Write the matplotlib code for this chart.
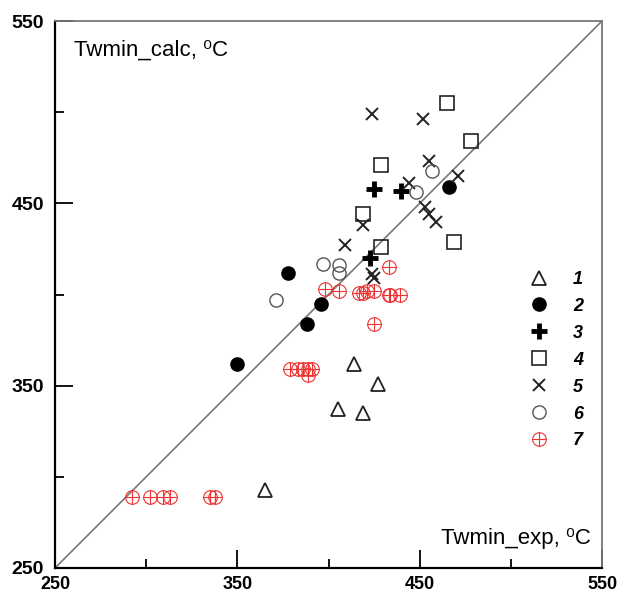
import numpy as np
import matplotlib
matplotlib.use("Agg")
import matplotlib.pyplot as plt
from matplotlib.path import Path
from matplotlib.ticker import FixedLocator

plt.rcParams['font.family'] = ['Liberation Sans', 'DejaVu Sans']

# series 1 - triangles
x1 = [365, 414, 427, 405, 419]
y1 = [293, 362, 351, 337, 335]
# series 2 - filled circles
x2 = [378, 396, 388, 350, 466]
y2 = [412, 395, 384, 362, 459]
# series 3 - plus
x3 = [425, 440, 423]
y3 = [458, 457, 420]
# series 4 - squares
x4 = [465, 478, 429, 419, 469, 429]
y4 = [505, 484, 471, 444, 429, 426]
# series 5 - crosses
x5 = [424, 452, 455, 471, 444, 453, 455, 459, 419, 409, 424, 425]
y5 = [499, 496, 473, 465, 461, 448, 444, 440, 438, 427, 411, 409]
# series 6 - open circles
x6 = [457, 448, 397, 406, 406, 371]
y6 = [468, 456, 417, 416, 412, 397]
# series 7 - red circle-plus
x7 = [292, 302, 309, 313, 335, 338,
      433, 398, 406, 417, 419, 421, 425, 433, 434, 439, 425,
      379, 383, 386, 389, 389, 391]
y7 = [289, 289, 289, 289, 289, 289,
      415, 403, 402, 401, 401, 402, 402, 400, 400, 400, 384,
      359, 359, 359, 359, 356, 359]

labels = ['1', '2', '3', '4', '5', '6', '7']
major_ticks = [250, 350, 450, 550]
minor_ticks = [300, 400, 500]

# circle with a cross inside
oplus = Path.make_compound_path(
    Path.unit_circle(),
    Path([[-1, 0], [1, 0]], [Path.MOVETO, Path.LINETO]),
    Path([[0, -1], [0, 1]], [Path.MOVETO, Path.LINETO]),
)

fig = plt.figure(figsize=(6.19, 5.95), dpi=100)
ax = fig.add_axes([55/619, 27/595, 547/619, 547/595])

ax.plot([250, 550], [250, 550], color='#777777', linewidth=1.2, zorder=1)

ax.plot(x1, y1, linestyle='none', marker='^', markersize=10, mfc='none',
        mec='#222222', mew=1.3, label=labels[0])
ax.plot(x2, y2, linestyle='none', marker='o', markersize=9.5, color='black',
        label=labels[1])
ax.plot(x3, y3, linestyle='none', marker='+', markersize=12, color='black',
        mew=3.5, label=labels[2])
ax.plot(x4, y4, linestyle='none', marker='s', markersize=9.5, mfc='none',
        mec='#222222', mew=1.2, label=labels[3])
ax.plot(x5, y5, linestyle='none', marker='x', markersize=9, color='#222222',
        mew=1.4, label=labels[4])
ax.plot(x6, y6, linestyle='none', marker='o', markersize=9.5, mfc='none',
        mec='#555555', mew=1.0, label=labels[5])
ax.plot(x7, y7, linestyle='none', marker=oplus, markersize=9.8, mfc='none',
        mec='#ee3333', mew=0.8, label=labels[6])

ax.set_xlim(250, 550)
ax.set_ylim(250, 550)
ax.xaxis.set_major_locator(FixedLocator(major_ticks))
ax.yaxis.set_major_locator(FixedLocator(major_ticks))
ax.xaxis.set_minor_locator(FixedLocator(minor_ticks))
ax.yaxis.set_minor_locator(FixedLocator(minor_ticks))
ax.tick_params(which='both', direction='in', top=False, right=False,
               width=1.3, colors='black')
ax.tick_params(axis='x', pad=6, labelsize=13)
ax.tick_params(axis='y', pad=8, labelsize=14)
ax.tick_params(which='major', length=13)
ax.tick_params(which='minor', length=6.5)
for lab in ax.get_xticklabels() + ax.get_yticklabels():
    lab.set_fontweight('bold')

ax.spines['left'].set_linewidth(1.6)
ax.spines['bottom'].set_linewidth(1.6)
ax.spines['top'].set_color('#777777')
ax.spines['right'].set_color('#777777')
ax.spines['top'].set_linewidth(1.3)
ax.spines['right'].set_linewidth(1.3)

ax.text(0.035, 0.965, 'Twmin_calc, ⁰C', transform=ax.transAxes,
        fontsize=16, va='top', ha='left')
ax.text(0.98, 0.035, 'Twmin_exp, ⁰C', transform=ax.transAxes,
        fontsize=16, va='bottom', ha='right')

ax.legend(loc='center left', bbox_to_anchor=(0.835, 0.38), frameon=False,
          prop={'weight': 'bold', 'style': 'italic', 'size': 13},
          handletextpad=1.3, labelspacing=0.55, handlelength=1.2)

fig.savefig('out.png', dpi=100)
